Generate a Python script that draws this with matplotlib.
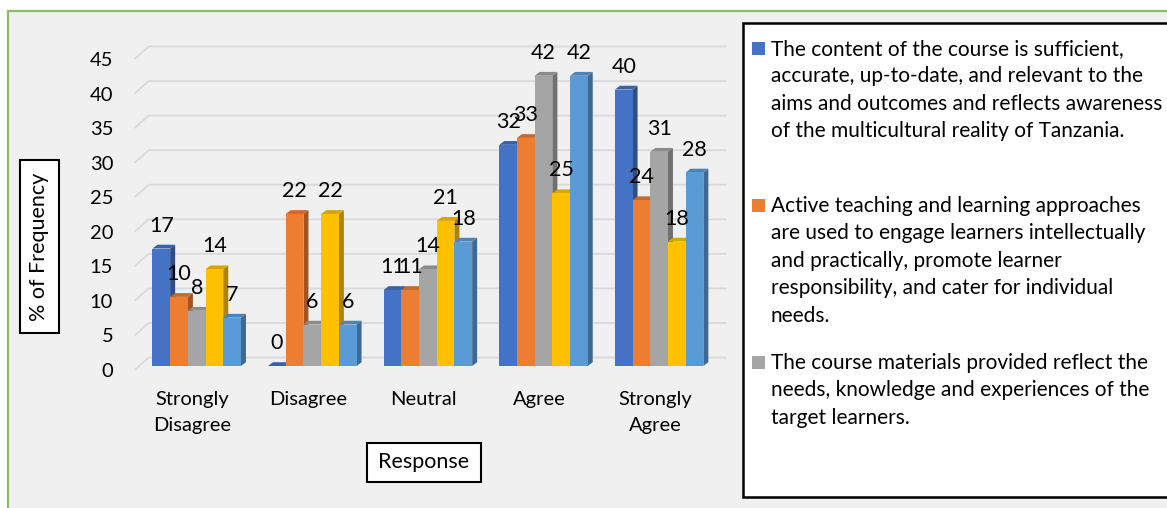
import numpy as np
import matplotlib.pyplot as plt
from matplotlib.patches import Rectangle, Polygon
import matplotlib.colors as mcolors

plt.rcParams['font.family'] = ['Lato', 'DejaVu Sans']

categories = ['Strongly\nDisagree', 'Disagree', 'Neutral', 'Agree', 'Strongly\nAgree']
content_ok = [17, 0, 11, 32, 40]
active_teaching = [10, 22, 11, 33, 24]
materials_reflect = [8, 6, 14, 42, 31]
series_4 = [14, 22, 21, 25, 18]
series_5 = [7, 6, 18, 42, 28]
yticks = list(range(0, 50, 5))

colors = ['#4472C4', '#ED7D31', '#A5A5A5', '#FFC000', '#5B9BD5']
legend_labels = [
    'The content of the course is sufficient,\naccurate, up-to-date, and relevant to the\n'
    'aims and outcomes and reflects awareness\nof the multicultural reality of Tanzania.',
    'Active teaching and learning approaches\nare used to engage learners intellectually\n'
    'and practically, promote learner\nresponsibility, and cater for individual\nneeds.',
    'The course materials provided reflect the\nneeds, knowledge and experiences of the\n'
    'target learners.',
]

series = [content_ok, active_teaching, materials_reflect, series_4, series_5]

W, H = 1167, 508
fig = plt.figure(figsize=(W / 100, H / 100), dpi=100)
fig.patch.set_facecolor('white')

# chart area background with green frame (clipped on right/bottom)
fig.patches.append(Rectangle((8 / W, -0.05), 1.1, (H - 11) / H + 0.05, transform=fig.transFigure,
                             fc='#F0F0F0', ec='#8DBB6C', lw=1.6, zorder=-5))

ax = fig.add_axes([134.7 / W, 138 / H, 578 / W, 311 / H])
ax.set_zorder(1)
ax.set_xlim(-0.5, 4.5)
ax.set_ylim(0, 45)
ax.patch.set_visible(False)
for s in ax.spines.values():
    s.set_visible(False)

px_x = 1 / 115.6   # data units per pixel
px_y = 45 / 311

# back-wall gridlines with the little diagonal on the side wall
gdx, gdy = 14 * px_x, 12.5 * px_y
for v in yticks:
    ax.plot([-0.5, -0.5 + gdx, 4.5 + gdx], [v, v + gdy, v + gdy],
            color='#D9D9D9', lw=1.3, clip_on=False, zorder=1, solid_capstyle='butt')

# pseudo 3D bars
bw = 17.7 * px_x
bx, by = 4.2 * px_x, 4 * px_y
ddx, ddy = 5 * px_x, 3.8 * px_y
x = np.arange(len(categories))


def shade(c, f):
    r, g, b = mcolors.to_rgb(c)
    return (r * f, g * f, b * f)


for j, vals in enumerate(series):
    left = x + bx - 2.5 * bw + j * bw
    z = 3 + j
    ax.bar(left, vals, width=bw, bottom=by, align='edge', color=colors[j], zorder=z + 0.5, lw=0)
    for l, v in zip(left, vals):
        top = by + v
        ax.add_patch(Polygon([(l + bw, by), (l + bw + ddx, by + ddy), (l + bw + ddx, top + ddy), (l + bw, top)],
                             closed=True, fc=shade(colors[j], 0.68), lw=0, zorder=z))
        ax.add_patch(Polygon([(l, top), (l + bw, top), (l + bw + ddx, top + ddy), (l + ddx, top + ddy)],
                             closed=True, fc=shade(colors[j], 0.85), lw=0, zorder=z))
        ax.annotate(str(v), (l + bw / 2, top), xytext=(0, 16.5), textcoords='offset points',
                    ha='center', va='center', fontsize=15.5, color='black', zorder=20)

ax.set_yticks(yticks)
ax.set_xticks(x)
ax.set_xticklabels(categories, fontsize=14.5, linespacing=1.65)
ax.tick_params(axis='y', length=0, pad=15.5, labelsize=14.5)
ax.tick_params(axis='x', length=0, pad=15)

# axis title boxes
fig.patches.append(Rectangle((20 / W, 1 - 333 / H), 39 / W, 173 / H, transform=fig.transFigure,
                             fc='white', ec='black', lw=1.5, zorder=5))
fig.text(39.5 / W, 1 - 246.5 / H, '% of Frequency', rotation=90, ha='center', va='center',
         fontsize=15.5, zorder=6)
fig.patches.append(Rectangle((367 / W, 1 - 482 / H), 114 / W, 39 / H, transform=fig.transFigure,
                             fc='white', ec='black', lw=1.5, zorder=5))
fig.text(424 / W, 1 - 462.5 / H, 'Response', ha='center', va='center', fontsize=15.5, zorder=6)

# legend box (only the first three entries fit, as in the original)
fig.patches.append(Rectangle((743 / W, 1 - 497 / H), 0.5, 474 / H, transform=fig.transFigure,
                             fc='white', ec='black', lw=1.8, zorder=5))
for k, lab in enumerate(legend_labels):
    base = 55 + 157 * k
    fig.patches.append(Rectangle((752 / W, 1 - base / H), 13 / W, 13 / H, transform=fig.transFigure,
                                 fc=colors[k], ec='none', zorder=6))
    for n, line in enumerate(lab.split('\n')):
        fig.text(771 / W, 1 - (base + 27.4 * n) / H, line, ha='left', va='baseline',
                 fontsize=15, zorder=6)

fig.savefig('out.png', dpi=100)
